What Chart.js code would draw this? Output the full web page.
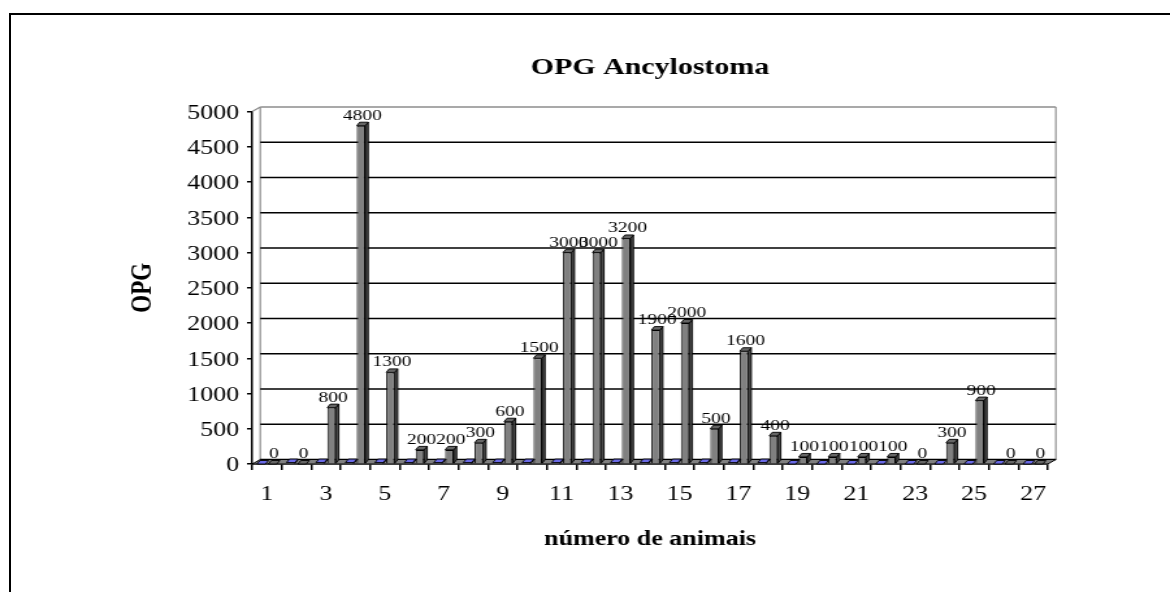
<!DOCTYPE html>
<html>
<head>
<meta charset="utf-8">
<title>OPG Ancylostoma</title>
<script src="https://cdn.jsdelivr.net/npm/chart.js@4.4.1/dist/chart.umd.min.js"></script>
<style>
  html, body { margin: 0; padding: 0; background: #fff; overflow: hidden; }
  #frame {
    position: absolute; left: 9px; top: 13px; width: 1200px; height: 620px;
    border: 2px solid #000; box-sizing: border-box;
  }
  #c { position: absolute; left: 0; top: 0; }
</style>
</head>
<body>
<div id="frame"></div>
<canvas id="c" width="900" height="592" style="width:1170px;height:592px"></canvas>
<script>
// Animal numbers on the category axis
const animais = ['1','2','3','4','5','6','7','8','9','10','11','12','13','14','15','16','17','18','19','20','21','22','23','24','25','26','27'];
// Eggs per gram (OPG) for each animal
const opg = [0, 0, 800, 4800, 1300, 200, 200, 300, 600, 1500, 3000, 3000, 3200, 1900, 2000, 500, 1600, 400, 100, 100, 100, 100, 0, 300, 900, 0, 0];
// First series, almost flat against the floor
const serie1 = [0, 20, 20, 20, 20, 20, 20, 20, 20, 20, 20, 20, 20, 20, 20, 20, 20, 20, 0, 0, 0, 0, 0, 0, 0, 0, 0];
// Value axis ticks
const yTicks = [0, 500, 1000, 1500, 2000, 2500, 3000, 3500, 4000, 4500, 5000];

const SERIF = "'Liberation Serif', 'Times New Roman', serif";
Chart.defaults.font.family = SERIF;
Chart.defaults.color = '#000';

// depth of the back wall and of each column (canvas units)
const WALL = { dx: 6.2, dy: 4.5 };
const COL = { dx: 2.3, dy: 3.5 };

function poly(ctx, pts, fill, stroke, lw) {
  ctx.beginPath();
  ctx.moveTo(pts[0][0], pts[0][1]);
  for (let i = 1; i < pts.length; i++) ctx.lineTo(pts[i][0], pts[i][1]);
  ctx.closePath();
  if (fill) { ctx.fillStyle = fill; ctx.fill(); }
  if (stroke) { ctx.strokeStyle = stroke; ctx.lineWidth = lw || 1; ctx.stroke(); }
}

// Back wall grid, wall edges and the floor
const wallPlugin = {
  id: 'wall',
  beforeDatasetsDraw(chart) {
    const { ctx, chartArea: a, scales: { y } } = chart;
    const L = a.left, R = a.right, T = a.top, B = a.bottom;
    ctx.save();
    // side and back wall edges
    ctx.strokeStyle = '#8c8c8c';
    ctx.lineWidth = 1.2;
    ctx.beginPath();
    ctx.moveTo(L, T); ctx.lineTo(L + WALL.dx, T - WALL.dy);
    ctx.moveTo(L + WALL.dx, T - WALL.dy); ctx.lineTo(L + WALL.dx, B - WALL.dy);
    ctx.moveTo(R + WALL.dx, T - WALL.dy); ctx.lineTo(R + WALL.dx, B - WALL.dy);
    ctx.stroke();
    // gridlines on the back wall
    yTicks.forEach(v => {
      const py = y.getPixelForValue(v) - WALL.dy;
      ctx.beginPath();
      ctx.strokeStyle = v === yTicks[yTicks.length - 1] ? '#8c8c8c' : '#000';
      ctx.lineWidth = 1.5;
      ctx.moveTo(L + WALL.dx, py);
      ctx.lineTo(R + WALL.dx, py);
      ctx.stroke();
    });
    // floor
    poly(ctx, [[L, B], [R, B], [R + WALL.dx, B - WALL.dy], [L + WALL.dx, B - WALL.dy]], '#808080', '#000', 1);
    ctx.restore();
  }
};

// Top and side faces of the columns, then the value labels
const reliefPlugin = {
  id: 'relief',
  afterDatasetsDraw(chart) {
    const { ctx } = chart;
    ctx.save();
    chart.data.datasets.forEach((ds, di) => {
      const meta = chart.getDatasetMeta(di);
      meta.data.forEach(el => {
        const { x, y, base, width } = el.getProps(['x', 'y', 'base', 'width'], true);
        const l = x - width / 2, r = x + width / 2;
        // side face
        if (base - y > 0.5) {
          poly(ctx, [[r, y], [r + COL.dx, y - COL.dy], [r + COL.dx, base - COL.dy], [r, base]], ds.sideColor, '#000', 0.9);
        }
        // top face
        poly(ctx, [[l, y], [l + COL.dx, y - COL.dy], [r + COL.dx, y - COL.dy], [r, y]], ds.topColor, '#000', 0.9);
      });
    });
    // value labels above the OPG columns
    const meta = chart.getDatasetMeta(1);
    ctx.fillStyle = '#000';
    ctx.font = '15px ' + SERIF;
    ctx.textAlign = 'center';
    ctx.textBaseline = 'alphabetic';
    meta.data.forEach((el, i) => {
      const { x, y } = el.getProps(['x', 'y'], true);
      ctx.fillText(String(opg[i]), x + COL.dx / 2, y - 6);
    });
    ctx.restore();
  }
};

new Chart(document.getElementById('c'), {
  type: 'bar',
  data: {
    labels: animais,
    datasets: [
      {
        label: 'Série 1',
        data: serie1,
        backgroundColor: '#9999ff',
        topColor: '#6a6ae6',
        sideColor: '#5555aa',
        borderColor: '#000',
        borderWidth: 1,
        categoryPercentage: 0.77,
        barPercentage: 0.75
      },
      {
        label: 'OPG',
        data: opg,
        backgroundColor: '#808080',
        topColor: '#666666',
        sideColor: '#4a4a4a',
        borderColor: '#000',
        borderWidth: 1,
        categoryPercentage: 0.77,
        barPercentage: 0.75
      }
    ]
  },
  options: {
    responsive: false,
    maintainAspectRatio: false,
    devicePixelRatio: 1,
    animation: false,
    layout: { padding: { left: 0, right: 94, top: 0, bottom: 0 } },
    plugins: {
      legend: { display: false },
      tooltip: { enabled: false },
      title: {
        display: true,
        text: 'OPG Ancylostoma',
        fullSize: false,
        font: { size: 23, weight: 'bold', family: SERIF },
        color: '#000',
        padding: { top: 54, bottom: 30 }
      }
    },
    scales: {
      x: {
        type: 'category',
        afterFit: s => { s.height = 128; },
        grid: { offset: true, drawOnChartArea: false, drawTicks: true, tickLength: 6, color: '#000', lineWidth: 1.5 },
        border: { display: true, color: '#000', width: 1.5 },
        ticks: {
          autoSkip: false, maxRotation: 0, minRotation: 0, padding: 13,
          font: { size: 20 },
          callback: (v, i) => (i % 2 === 0 ? animais[i] : '')
        },
        title: {
          display: true, text: 'número de animais',
          font: { size: 20, weight: 'bold' },
          padding: { top: 0, bottom: 40 }
        }
      },
      y: {
        min: 0, max: 5000,
        afterFit: s => { s.width = 194; },
        afterBuildTicks: s => { s.ticks = yTicks.map(v => ({ value: v })); },
        grid: { drawOnChartArea: false, drawTicks: true, tickLength: 4, color: '#000', lineWidth: 1.5 },
        border: { display: true, color: '#000', width: 1.5 },
        ticks: { padding: 6, labelOffset: 2, font: { size: 20 }, callback: v => String(v) },
        title: {
          display: true, text: 'OPG',
          font: { size: 23, weight: 'bold' },
          padding: { top: 96, bottom: 0 }
        }
      }
    }
  },
  plugins: [wallPlugin, reliefPlugin]
});
</script>
</body>
</html>
